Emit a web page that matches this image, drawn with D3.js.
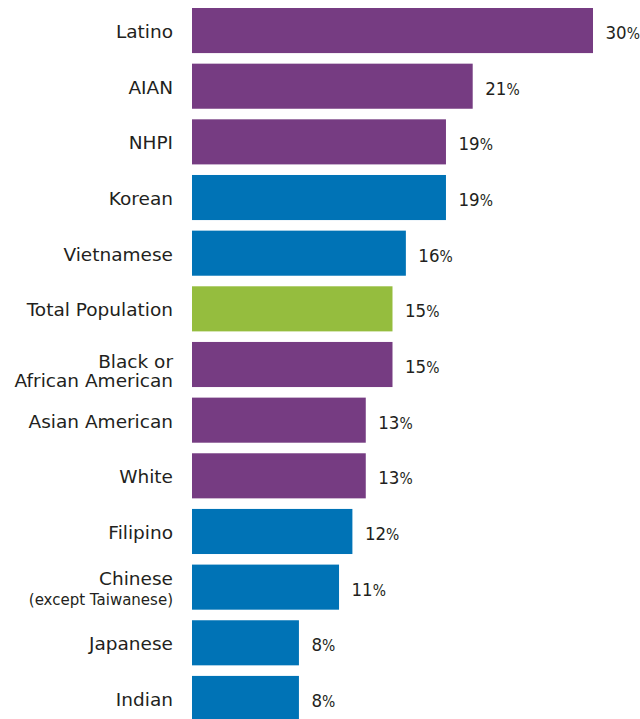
<!DOCTYPE html>
<html>
<head>
<meta charset="utf-8">
<script src="https://cdn.jsdelivr.net/npm/d3@7"></script>
<style>
  body { margin: 0; background: #fff; }
  text { font-family: "DejaVu Sans", sans-serif; fill: #231f20; }
  text.val { font-family: "DejaVu Sans Condensed", "DejaVu Sans", sans-serif; }
</style>
</head>
<body>
<div id="chart"></div>
<script>
// data
const groups = ["Latino", "AIAN", "NHPI", "Korean", "Vietnamese", "Total Population",
  "Black or African American", "Asian American", "White", "Filipino", "Chinese", "Japanese", "Indian"];
const labelLines = [["Latino"], ["AIAN"], ["NHPI"], ["Korean"], ["Vietnamese"], ["Total Population"],
  ["Black or", "African American"], ["Asian American"], ["White"], ["Filipino"],
  ["Chinese", "(except Taiwanese)"], ["Japanese"], ["Indian"]];
const values = [30, 21, 19, 19, 16, 15, 15, 13, 13, 12, 11, 8, 8];
const kinds = ["race", "race", "race", "asian", "asian", "total", "race", "race", "race", "asian", "asian", "asian", "asian"];

const width = 640, height = 719;
const colors = { race: "#763c82", asian: "#0073b6", total: "#95bd3e" };

const svg = d3.select("#chart").append("svg")
  .attr("width", width)
  .attr("height", height);

const x = d3.scaleLinear().domain([0, 30]).range([192, 593]);
const y = d3.scaleBand().domain(groups).range([8, 721]).paddingInner(0.19).paddingOuter(0);

// bars
svg.selectAll("rect.bar")
  .data(groups).enter()
  .append("rect")
  .attr("class", "bar")
  .attr("x", x(0))
  .attr("y", d => y(d))
  .attr("width", (d, i) => x(values[i]) - x(0))
  .attr("height", y.bandwidth())
  .attr("fill", (d, i) => colors[kinds[i]]);

// value labels (the % sign is drawn narrower, as in the original)
const vals = svg.selectAll("text.val")
  .data(groups).enter()
  .append("text")
  .attr("class", "val")
  .attr("x", (d, i) => x(values[i]) + 12.5)
  .attr("y", d => y(d) + y.bandwidth() / 2 + 8.5)
  .style("font-size", "18.5px");
vals.append("tspan").text((d, i) => values[i]);
vals.append("tspan").style("font-size", "15.5px").text("%");

// category labels
const lx = 173;
groups.forEach((g, i) => {
  const lines = labelLines[i];
  const cy = y(g) + y.bandwidth() / 2;
  const t = svg.append("text")
    .attr("text-anchor", "end")
    .attr("x", lx)
    .style("font-size", "18.5px");
  if (lines.length == 1) {
    t.attr("y", cy + 7.5).text(lines[0]);
  } else if (g == "Chinese") {
    t.append("tspan").attr("x", lx).attr("y", cy - 2).text(lines[0]);
    t.append("tspan").attr("x", lx).attr("y", cy + 18).style("font-size", "15px").text(lines[1]);
  } else {
    t.append("tspan").attr("x", lx).attr("y", cy + 3).text(lines[0]);
    t.append("tspan").attr("x", lx).attr("y", cy + 22.5).text(lines[1]);
  }
});
</script>
</body>
</html>
